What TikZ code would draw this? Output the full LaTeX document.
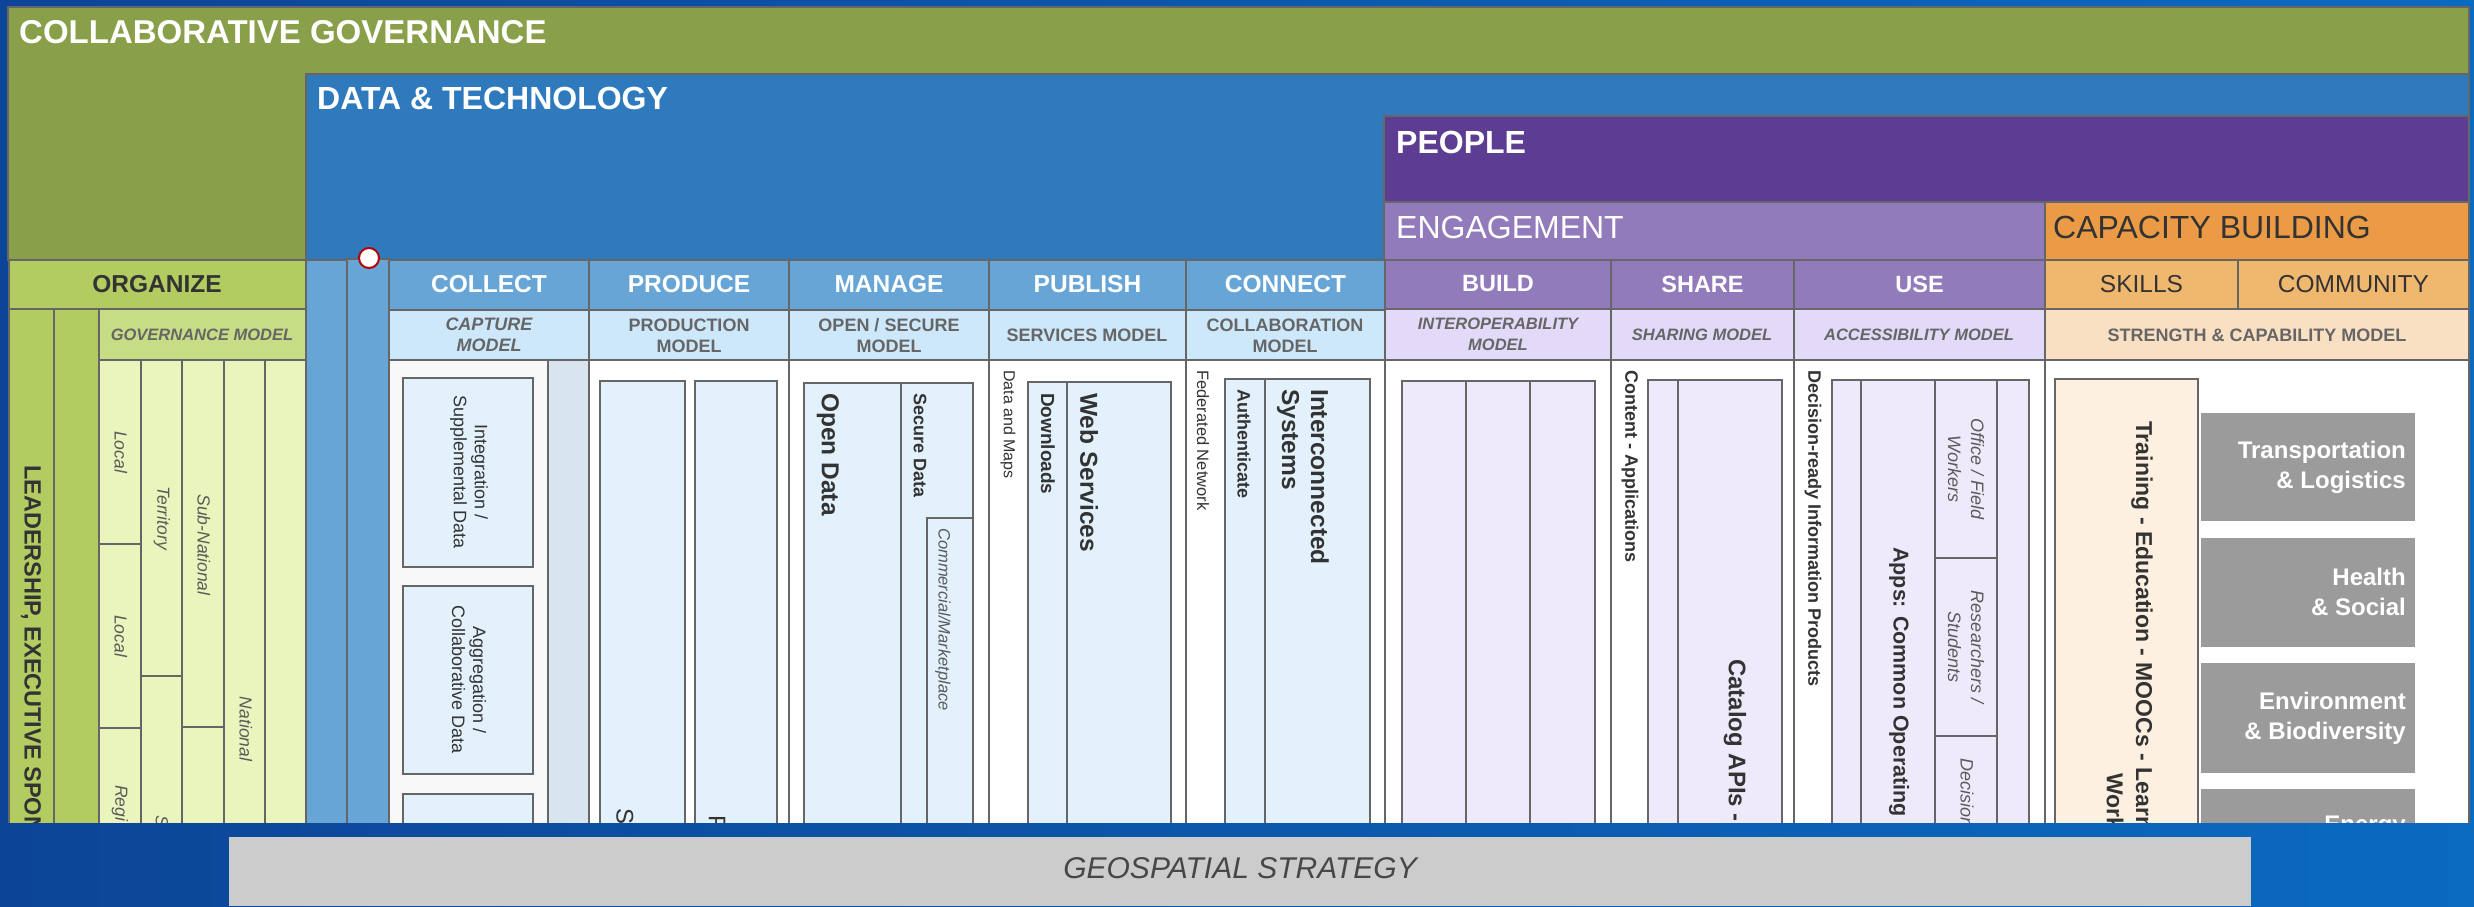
\documentclass[tikz,border=0pt]{standalone}
\usepackage{fontspec}
\setmainfont{Liberation Sans}

\definecolor{framedark}{HTML}{0C4597}
\definecolor{framelight}{HTML}{0A6AC0}
\definecolor{govgreen}{HTML}{8A9F49}
\definecolor{orggreen}{HTML}{B3CC62}
\definecolor{govmodel}{HTML}{C6DD85}
\definecolor{govpale}{HTML}{EAF5BD}
\definecolor{techblue}{HTML}{2F7ABD}
\definecolor{colblue}{HTML}{66A5D5}
\definecolor{modelblue}{HTML}{CDE7FB}
\definecolor{boxblue}{HTML}{E3F1FC}
\definecolor{collectbg}{HTML}{F8F8F8}
\definecolor{collectside}{HTML}{D8E5EF}
\definecolor{peoplepurple}{HTML}{5C3D91}
\definecolor{engage}{HTML}{927BBB}
\definecolor{modelpurple}{HTML}{E3D9F8}
\definecolor{boxpurple}{HTML}{EFEAFB}
\definecolor{caporange}{HTML}{EB9B45}
\definecolor{skillorange}{HTML}{F0B86F}
\definecolor{strength}{HTML}{FAE0C3}
\definecolor{trainbox}{HTML}{FDF0E0}
\definecolor{sectorgrey}{HTML}{9B9B9B}
\definecolor{stratgrey}{HTML}{CCCCCC}
\definecolor{edge}{HTML}{666666}
\definecolor{ink}{HTML}{333333}
\definecolor{softink}{HTML}{5A5A5A}
\definecolor{mdlink}{HTML}{666666}

\tikzset{
  cell/.style={draw=edge, line width=2pt},
  title/.style={anchor=base west, inner sep=0pt, text=white, font=\fontsize{32}{36}\selectfont\bfseries},
  hdr/.style={text=white, font=\fontsize{24.5}{28}\selectfont\bfseries},
  mdl/.style={text=mdlink, align=center, font=\fontsize{18}{21}\selectfont\bfseries},
  mdlit/.style={mdl, font=\fontsize{16.5}{21}\selectfont\bfseries\itshape},
  vlabel/.style={rotate=-90, inner sep=0pt, text=ink},
  vsmall/.style={vlabel, text=softink, font=\fontsize{17.5}{21}\selectfont\itshape},
  sector/.style={anchor=east, align=right, text=white, inner sep=0pt, font=\fontsize{24}{30}\selectfont\bfseries}
}

\begin{document}
\begin{tikzpicture}[x=1pt,y=-1pt]
\useasboundingbox (0,0) rectangle (2474,906);
\shade[left color=framedark, right color=framelight] (0,0) rectangle (2474,906);

% nested bands
\draw[cell, fill=govgreen] (8,7) rectangle (2469,260);
\node[title, font=\fontsize{33}{36}\selectfont\bfseries] (collab) at (19,43) {COLLABORATIVE GOVERNANCE};
\draw[cell, fill=techblue] (306,74) rectangle (2469,260);
\node[title] (datatech) at (317,109) {DATA \& TECHNOLOGY};
\draw[cell, fill=peoplepurple] (1384,116) rectangle (2469,202);
\node[title] (people) at (1396,153) {PEOPLE};
\draw[cell, fill=engage] (1384,202) rectangle (2045,260);
\node[title, font=\fontsize{32}{36}\selectfont] (engagement) at (1396,238) {ENGAGEMENT};
\draw[cell, fill=caporange] (2045,202) rectangle (2469,260);
\node[title, text=ink, font=\fontsize{32}{36}\selectfont] (capacity) at (2053,238) {CAPACITY BUILDING};

% header row
\draw[cell, fill=orggreen] (9,260) rectangle (306,309);
\node[hdr, text=ink] (organize) at (157,284) {ORGANIZE};
\foreach \xa/\xb/\lbl [count=\i] in {389/589/COLLECT, 589/789/PRODUCE, 789/989/MANAGE, 989/1186/PUBLISH, 1186/1385/CONNECT} {
  \draw[cell, fill=colblue] (\xa,260) rectangle (\xb,310);
  \node[hdr] (act\i) at ({(\xa+\xb)/2},284) {\lbl};
}
\foreach \xa/\xb/\lbl [count=\i] in {1385/1611/BUILD, 1611/1794/SHARE, 1794/2045/USE} {
  \draw[cell, fill=engage] (\xa,260) rectangle (\xb,309);
  \node[hdr, font=\fontsize{23.5}{28}\selectfont\bfseries] (eng\i) at ({(\xa+\xb)/2},284) {\lbl};
}
\foreach \xa/\xb/\lbl [count=\i] in {2045/2238/SKILLS, 2238/2469/COMMUNITY} {
  \draw[cell, fill=skillorange] (\xa,260) rectangle (\xb,309);
  \node[hdr, text=ink, font=\fontsize{24.5}{28}\selectfont] (cap\i) at ({(\xa+\xb)/2},284) {\lbl};
}

% model row
\draw[cell, fill=govmodel] (99,309) rectangle (306,360);
\foreach \xa/\xb in {389/589, 589/789, 789/989, 989/1186, 1186/1385}
  \draw[cell, fill=modelblue] (\xa,310) rectangle (\xb,360);
\foreach \xa/\xb in {1385/1611, 1611/1794, 1794/2045}
  \draw[cell, fill=modelpurple] (\xa,309) rectangle (\xb,360);
\draw[cell, fill=strength] (2045,309) rectangle (2469,360);
\node[mdlit] (govmdl) at (202,335) {GOVERNANCE MODEL};
\node[mdl, font=\fontsize{18}{21}\selectfont\bfseries\itshape] (capmdl) at (489,335) {CAPTURE\\MODEL};
\node[mdl] (prodmdl) at (689,336) {PRODUCTION\\MODEL};
\node[mdl] (openmdl) at (889,336) {OPEN / SECURE\\MODEL};
\node[mdl] (servmdl) at (1087,335) {SERVICES MODEL};
\node[mdl] (collmdl) at (1285,336) {COLLABORATION\\MODEL};
\node[mdlit] (intmdl) at (1498,334) {INTEROPERABILITY\\MODEL};
\node[mdlit] (sharemdl) at (1702,335) {SHARING MODEL};
\node[mdlit] (accmdl) at (1919,335) {ACCESSIBILITY MODEL};
\node[mdl] (strmdl) at (2257,335) {STRENGTH \& CAPABILITY MODEL};

% organize columns
\draw[cell, fill=orggreen] (9,309) rectangle (54,830);
\draw[cell, fill=orggreen] (54,309) rectangle (99,830);
\foreach \xa/\ya/\xb/\yb in {99/360/141/544, 99/544/141/728, 99/728/141/830, 141/360/182/676, 141/676/182/830,
  182/360/224/727, 182/727/224/830, 224/360/265/830, 265/360/306/830}
  \draw[cell, fill=govpale] (\xa,\ya) rectangle (\xb,\yb);

% blue side columns
\draw[cell, fill=colblue] (306,260) rectangle (347,830);
\draw[cell, fill=colblue] (347,259) rectangle (389,830);
\draw[draw=red!70!black, line width=2pt, fill=white] (369,258) circle (10);

% column bodies
\draw[cell, fill=collectbg] (389,360) rectangle (548,830);
\draw[cell, fill=collectside] (548,360) rectangle (589,830);
\foreach \xa/\xb in {589/789, 789/989, 989/1186, 1186/1385, 1385/1611, 1611/1794, 1794/2045, 2045/2469}
  \draw[cell, fill=white] (\xa,360) rectangle (\xb,830);
\foreach \xa/\ya/\xb/\yb in {403/378/533/567, 403/586/533/774, 403/794/533/830, 600/381/685/830, 695/381/777/830,
  804/383/901/830, 901/383/973/830, 927/518/973/830, 1028/382/1067/830, 1067/382/1171/830,
  1225/379/1265/830, 1265/379/1370/830}
  \draw[cell, fill=boxblue] (\xa,\ya) rectangle (\xb,\yb);
\foreach \xa/\ya/\xb/\yb in {1402/381/1466/830, 1466/381/1530/830, 1530/381/1595/830, 1648/380/1678/830, 1678/380/1782/830,
  1832/380/1861/830, 1861/380/1935/830, 1935/380/1997/558, 1935/558/1997/736, 1935/736/1997/830, 1997/380/2029/830}
  \draw[cell, fill=boxpurple] (\xa,\ya) rectangle (\xb,\yb);
\draw[cell, fill=trainbox] (2055,379) rectangle (2198,830);
\foreach \ya/\yb in {413/521, 538/647, 663/773, 789/830}
  \fill[sectorgrey] (2201,\ya) rectangle (2415,\yb);

% vertical labels
\node[vlabel, anchor=west, font=\fontsize{23.5}{28}\selectfont\bfseries] (lead) at (31,465) {LEADERSHIP, EXECUTIVE SPON};
\node[vsmall] (local1) at (121,452) {Local};
\node[vsmall] (local2) at (121,636) {Local};
\node[vsmall, anchor=west] (regi) at (120,785) {Regi};
\node[vsmall] (territory) at (162,518) {Territory};
\node[vsmall, anchor=west] (terr2) at (162,815) {S};
\node[vsmall] (subnat) at (204,545) {Sub-National};
\node[vsmall] (national) at (246,729) {National};
\node[vlabel, align=center, font=\fontsize{18}{21}\selectfont] (integ) at (469,472) {Integration /\\Supplemental Data};
\node[vlabel, align=center, font=\fontsize{18}{21}\selectfont] (aggr) at (469,680) {Aggregation /\\Collaborative Data};
\node[vlabel, anchor=west, font=\fontsize{24}{28}\selectfont] (prod1) at (625,808) {S};
\node[vlabel, anchor=west, font=\fontsize{24}{28}\selectfont] (prod2) at (717,815) {P};
\node[vlabel, anchor=west, font=\fontsize{24.5}{28}\selectfont\bfseries] (opendata) at (828,393) {Open Data};
\node[vlabel, anchor=west, font=\fontsize{18}{21}\selectfont\bfseries] (securedata) at (920,393) {Secure Data};
\node[vsmall, anchor=west, font=\fontsize{16.5}{21}\selectfont\itshape] (market) at (943,528) {Commercial/Marketplace};
\node[vlabel, anchor=west, font=\fontsize{16}{21}\selectfont] (datamaps) at (1008,370) {Data and Maps};
\node[vlabel, anchor=west, font=\fontsize{19}{21}\selectfont\bfseries] (downloads) at (1048,393) {Downloads};
\node[vlabel, anchor=west, font=\fontsize{24.5}{28}\selectfont\bfseries] (websvc) at (1089,393) {Web Services};
\node[vlabel, anchor=west, font=\fontsize{16.5}{21}\selectfont] (federated) at (1203,370) {Federated Network};
\node[vlabel, anchor=west, font=\fontsize{18}{21}\selectfont\bfseries] (authent) at (1244,389) {Authenticate};
\node[vlabel, anchor=west, align=left, font=\fontsize{24.5}{29}\selectfont\bfseries] (intercon) at (1303,389) {Interconnected\\Systems};
\node[vlabel, anchor=west, font=\fontsize{18}{21}\selectfont\bfseries] (content) at (1630,370) {Content - Applications};
\node[vlabel, anchor=west, font=\fontsize{24}{28}\selectfont\bfseries] (catalog) at (1735,659) {Catalog APIs -};
\node[vlabel, anchor=west, font=\fontsize{18}{21}\selectfont\bfseries] (decready) at (1813,370) {Decision-ready Information Products};
\node[vlabel, anchor=west, font=\fontsize{21.5}{26}\selectfont\bfseries] (apps) at (1899,547) {Apps: Common Operating P};
\node[vsmall, align=center, font=\fontsize{18}{23}\selectfont\itshape] (office) at (1966,469) {Office / Field\\Workers};
\node[vsmall, align=center, font=\fontsize{18}{23}\selectfont\itshape] (research) at (1966,647) {Researchers /\\Students};
\node[vsmall, anchor=west, font=\fontsize{18}{23}\selectfont\itshape] (decision) at (1967,758) {Decision};
\node[vlabel, anchor=west, font=\fontsize{23}{27}\selectfont\bfseries] (training) at (2142,421) {Training - Education - MOOCs - Learn};
\node[vlabel, anchor=west, font=\fontsize{23}{27}\selectfont\bfseries] (work) at (2115,773) {Work};

% sector boxes
\node[sector] (transport) at (2406,467) {Transportation\\\& Logistics};
\node[sector] (health) at (2406,592) {Health\\\& Social};
\node[sector] (environ) at (2406,718) {Environment\\\& Biodiversity};
\node[sector, anchor=north east] (energy) at (2406,816) {Energy};

% strategy bar
\shade[left color=framedark, right color=framelight] (0,823) rectangle (2474,906);
\fill[stratgrey] (229,837) rectangle (2251,906);
\node[text=ink!90, font=\fontsize{30}{34}\selectfont\itshape] (strategy) at (1240,868) {GEOSPATIAL STRATEGY};
\end{tikzpicture}
\end{document}
